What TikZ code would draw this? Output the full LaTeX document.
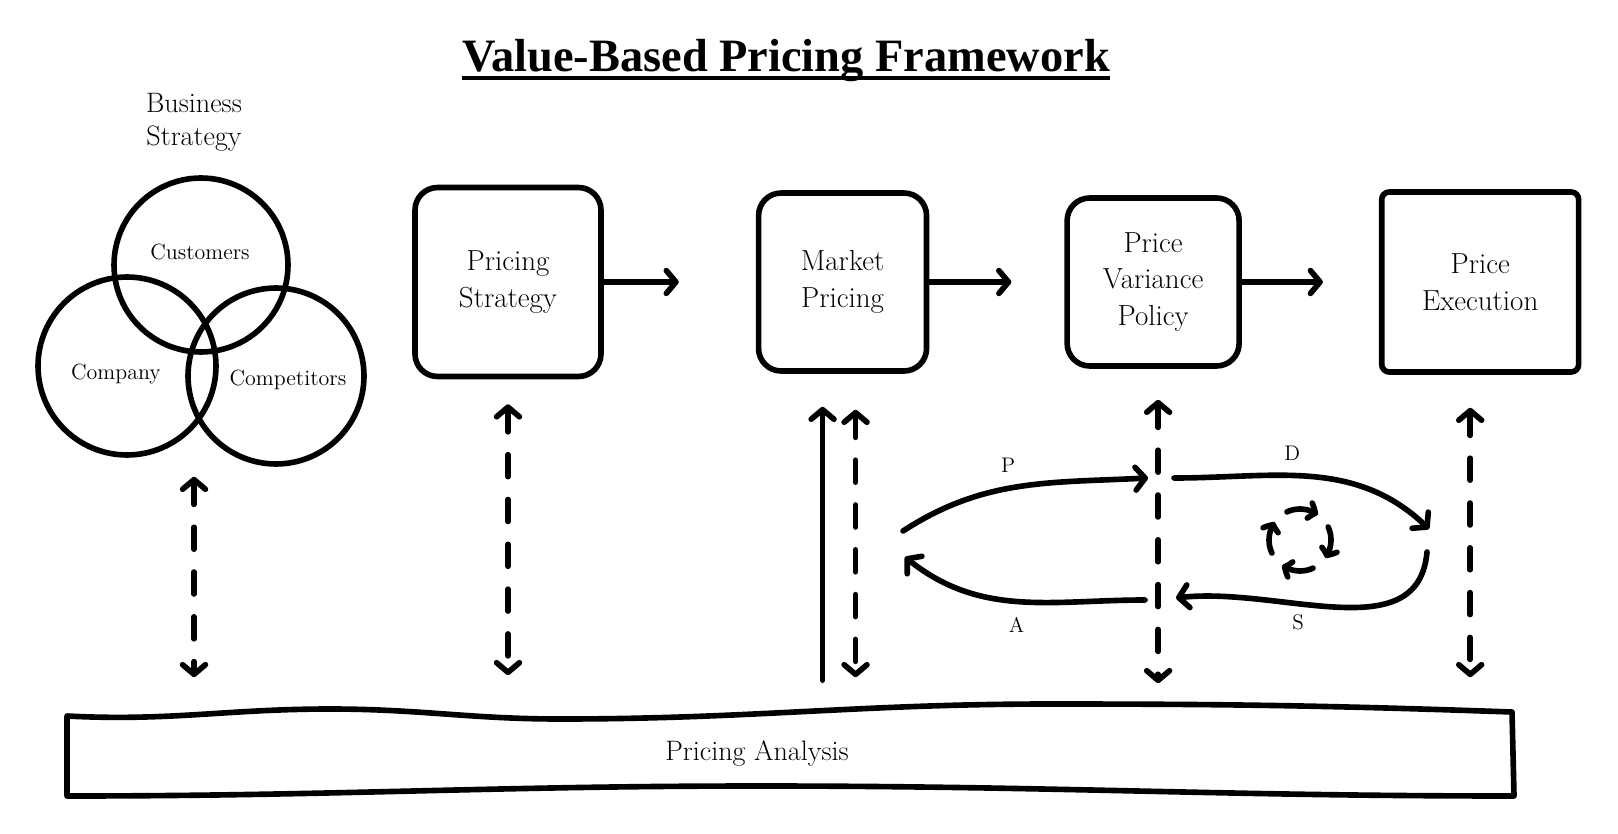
\documentclass[tikz,border=0pt]{standalone}
\usepackage{fontspec}
\newfontfamily\titlefont{Liberation Serif}
\usetikzlibrary{arrows.meta, bending, positioning, calc}

\begin{document}
\begin{tikzpicture}[
      x=0.02cm, y=0.02cm,
      box/.style={draw, line width=3.2pt, rounded corners=#1, align=center,
                  font=\fontsize{16.5}{21}\selectfont},
      box/.default=0.45cm,
      venn/.style={draw, circle, line width=3.2pt, inner sep=0pt,
                   font=\fontsize{12.5}{15}\selectfont},
      arr/.style={-{Straight Barb[round, length=5.5pt, width=13pt]}, line width=3.2pt, line cap=round},
      dbl/.style={{Straight Barb[round, length=5.5pt, width=13pt]}-{Straight Barb[round, length=5.5pt, width=13pt]},
                  line width=3.2pt, line cap=round, dash pattern=on 12.5pt off 13pt},
      cyc/.style={-{Straight Barb[round, bend, length=3.5pt, width=9pt]}, line width=3.2pt, line cap=round},
      tag/.style={font=\fontsize{12}{14}\selectfont}
  ]
    \useasboundingbox (0,0) rectangle (1618,-834);

    % title
    \node[font=\titlefont\bfseries\fontsize{26.4}{30}\selectfont, inner sep=0pt, anchor=base]
      (title) at (786,-72) {Value-Based Pricing Framework};
    \draw[line width=2.4pt] ([yshift=-3.2pt]title.base west) -- ([yshift=-3.2pt]title.base east);

    % business strategy
    \node[align=center, font=\fontsize{16}{18.7}\selectfont] (biz) at (194,-122) {Business\\Strategy};
    \node[venn, minimum size=3.48cm] (cust)   at (201,-265) {};
    \node[venn, minimum size=3.56cm] (comp)   at (127,-366) {};
    \node[venn, minimum size=3.52cm] (compet) at (276,-376) {};
    \node[font=\fontsize{12.5}{15}\selectfont] at (200,-252) {Customers};
    \node[font=\fontsize{12.5}{15}\selectfont] at (116,-374) {Company};
    \node[font=\fontsize{12.5}{15}\selectfont] at (288,-380) {Competitors};

    % process boxes
    \node[box, minimum width=3.72cm, minimum height=3.78cm] (ps) at (508,-282) {Pricing\\Strategy};
    \node[box, minimum width=3.36cm, minimum height=3.56cm, right=3.04cm of ps] (mp) {Market\\Pricing};
    \node[box, minimum width=3.44cm, minimum height=3.36cm, right=2.7cm of mp] (pvp) {Price\\Variance\\Policy};
    \node[box=0.15cm, minimum width=3.94cm, minimum height=3.6cm, right=2.74cm of pvp] (pe) {Price\\Execution};

    % analysis bar
    \node[minimum width=28.9cm, minimum height=1.66cm,
          label={[font=\fontsize{16}{19}\selectfont, xshift=-0.64cm]center:Pricing Analysis}]
      (pa) at (789,-753) {};
    \draw[line width=3.2pt, line join=round]
      (67,-716) to[out=-3,in=180] (330,-709) to[out=0,in=180] (560,-719)
      to[out=0,in=180] (1050,-704) to[out=0,in=178] (1512,-712)
      -- (1514,-796) to[out=180,in=0] (760,-786)
      to[out=180,in=0] (67,-796) -- cycle;

    % flow
    \draw[arr, shorten >=1.54cm] (ps.east) -- (ps.east -| mp.west);
    \draw[arr, shorten >=1.06cm] (mp.east) -- (mp.east -| pvp.west);
    \draw[arr, shorten >=1.12cm] (pvp.east) -- (pvp.east -| pe.west);

    % links to the analysis
    \draw[dbl, shorten <=0.2cm, shorten >=0.68cm]
      ([xshift=-0.14cm]cust.south |- compet.south) -- ([xshift=-0.14cm]cust.south |- pa.north);
    \draw[dbl, shorten <=0.5cm, shorten >=0.72cm] (ps.south) -- (ps.south |- pa.north);
    \draw[arr, shorten <=0.62cm, shorten >=0.66cm]
      ([xshift=-0.4cm]mp.south |- pa.north) -- ([xshift=-0.4cm]mp.south);
    \draw[dbl, shorten <=0.72cm, shorten >=0.68cm]
      ([xshift=0.26cm]mp.south) -- ([xshift=0.26cm]mp.south |- pa.north);
    \draw[dbl, shorten <=0.62cm, shorten >=0.56cm]
      ([xshift=0.1cm]pvp.south) -- ([xshift=0.1cm]pvp.south |- pa.north);
    \draw[dbl, shorten <=0.66cm, shorten >=0.68cm]
      ([xshift=-0.2cm]pe.south) -- ([xshift=-0.2cm]pe.south |- pa.north);

    % PDSA loop
    \coordinate (pstart) at (903,-531);
    \coordinate (pend)   at (1148,-478);
    \coordinate (dstart) at (1174,-478);
    \coordinate (dend)   at (1429,-529);
    \coordinate (sstart) at (1427,-552);
    \coordinate (send)   at (1176,-598);
    \coordinate (astart) at (1145,-600);
    \coordinate (aend)   at (905,-557);
    \coordinate (cyc)    at (1300,-540);

    \draw[arr] (pstart) to[out=33,in=183] node[tag, above=0.15cm, pos=0.45] {P} (pend);
    \draw[arr] (dstart) to[out=0,in=135] node[tag, above=0.12cm, pos=0.42] {D} (dend);
    \draw[arr] (sstart) to[out=-95,in=8] node[tag, below=0.05cm, pos=0.62] {S} (send);
    \draw[arr] (astart) to[out=180,in=-40] node[tag, below=0.15cm, pos=0.5] {A} (aend);

    \foreach \a in {115,25,-65,-155}
      \draw[cyc] ($(cyc)+(\a:31)$) arc[start angle=\a, end angle=\a-60, radius=31];
  \end{tikzpicture}
\end{document}
